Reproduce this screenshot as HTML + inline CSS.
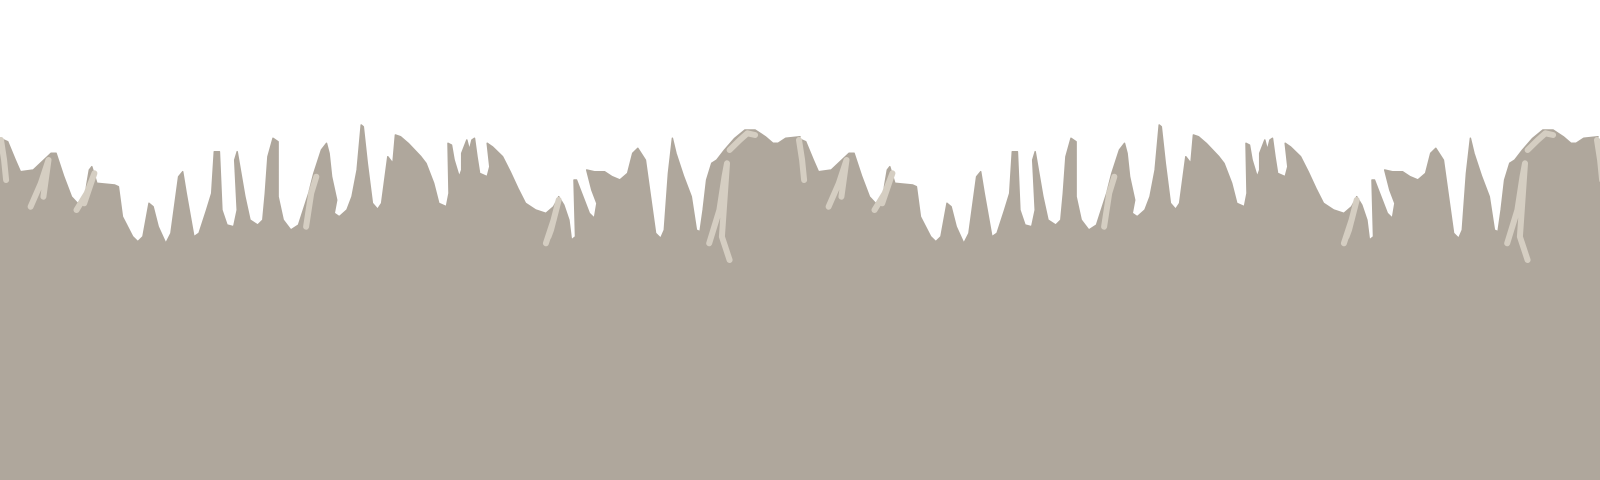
<!DOCTYPE html>
<html><head><meta charset="utf-8"><style>html,body{margin:0;padding:0;background:#fff;width:1600px;height:480px;overflow:hidden}</style></head>
<body>
<svg id="s" width="1600" height="480" viewBox="0 0 1600 480" xmlns="http://www.w3.org/2000/svg"></svg>
<script>
const edgeX=[0,15,30,40,65,100,110,125,140,155,165,175,180,190,225,232,240,260,270,280,292,300,310,325,335,350,358,365,380,390,405,415,420,430,435,445,458,465,460,465,480,490,505,515,520,525,535,545,545,555,570,585,605,615,630,640,645,650,660,655,665,680,690,700,708,712,720,730,740,748,760,770,775,785,800,825,835,850,860,875,880,878,885,890,900,905,905,915,920,925,930,935,940,955,960,955,965,985,1000,1015,1030,1050,1070,1085,1095,1105,1115,1120,1128,1125,1130,1145,1155,1165,1170,1160,1150,1165,1185,1200,1215,1230,1240,1250,1265,1275,1285,1295,1302,1310,1318,1325,1340,1355,1365,1372,1378,1385,1395,1405,1420,1440,1460,1480,1500,1515,1525,1540,1568];
const edgeY=[85,95,150,185,180,130,130,200,260,285,270,180,170,220,225,230,320,380,395,380,280,290,350,400,370,200,185,250,380,370,300,250,125,125,300,345,350,300,150,125,260,330,345,330,250,140,85,95,260,330,360,345,250,190,120,100,130,200,270,310,320,300,260,180,45,50,160,280,298,280,140,160,75,80,100,140,160,220,280,290,250,100,105,150,200,180,130,90,120,90,85,140,190,200,170,100,110,140,185,235,280,300,310,290,260,285,330,390,380,210,210,270,310,325,280,240,180,185,185,200,210,190,130,115,150,260,370,385,360,190,85,130,200,260,360,365,300,210,160,150,120,85,60,60,80,100,100,85,80];
const hlX=[[2,8,12],[60,80,95,85],[150,170,185,165],[600,610,620],[1070,1085,1095,1080,1075],[1390,1410,1420,1425,1415,1430],[1430,1450,1465,1480]];
const hlY=[[90,150,210],[290,220,150,260],[300,250,190,280],[350,250,200],[400,330,270,360,380],[400,300,200,160,380,450],[120,90,70,75]];
const period=798, sx=1/1.96, sy=1/3, oy=110;
const NS='http://www.w3.org/2000/svg', svg=document.getElementById('s');
function px(v,k){return v*sx+k*period} function py(v){return oy+v*sy}
for(let k=0;k<3;k++){
  let d='M'+px(edgeX[0],k)+','+py(edgeY[0]);
  for(let i=1;i<edgeX.length;i++) d+=' L'+px(edgeX[i],k).toFixed(1)+','+py(edgeY[i]).toFixed(1);
  d+=' L'+px(edgeX[0],k+1)+','+py(edgeY[0])+' L'+px(edgeX[0],k+1)+',480 L'+px(edgeX[0],k)+',480 Z';
  const p=document.createElementNS(NS,'path');
  
  
  p.setAttribute('d',d);p.setAttribute('fill','#afa79c');p.setAttribute('stroke','#afa79c');p.setAttribute('stroke-width','1.5');p.setAttribute('stroke-linejoin','round');
  svg.appendChild(p);
  for(let j=0;j<hlX.length;j++){
    let pts=hlX[j].map((v,i)=>px(v,k).toFixed(1)+','+py(hlY[j][i]).toFixed(1)).join(' ');
    const l=document.createElementNS(NS,'polyline');
    
    
    l.setAttribute('points',pts);l.setAttribute('fill','none');l.setAttribute('stroke','#d5cec2');l.setAttribute('stroke-width','6');l.setAttribute('stroke-linecap','round');l.setAttribute('stroke-linejoin','round');
    svg.appendChild(l);
  }
}
</script>
</body></html>
